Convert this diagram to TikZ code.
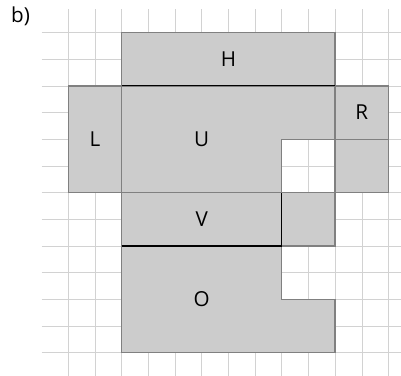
\documentclass[tikz,border=0pt]{standalone}
\usepackage{fontspec}
\setmainfont{Open Sans}
\usetikzlibrary{positioning}

\begin{document}
\begin{tikzpicture}[
    gridline/.style={draw=gray!35, line width=0.6pt},
    piece/.style={fill=gray!40, draw=gray!100, line width=1.5pt},
    cut/.style={draw=black, line width=1.1pt},
    lbl/.style={font=\fontsize{22}{26}\selectfont, inner sep=0pt},
]
\useasboundingbox (-2.56,-0.87) rectangle (12.47,13.22);

% grid
\foreach \y in {0,...,12}
  \draw[gridline] (-1,\y) -- (12.6,\y);
\foreach \x in {0,...,12}
  \draw[gridline] (\x,-1) -- (\x,12.89);

% pieces
\draw[piece] (2,10) rectangle (10,12);
\draw[piece] (0,6) rectangle (2,10);
\draw[piece] (2,6) -- (2,10) -- (10,10) -- (10,8) -- (8,8) -- (8,6) -- cycle;
\draw[piece] (10,8) rectangle (12,10);
\draw[piece] (10,6) rectangle (12,8);
\draw[piece] (2,4) rectangle (8,6);
\draw[piece] (8,4) rectangle (10,6);
\draw[piece] (2,0) -- (10,0) -- (10,2) -- (8,2) -- (8,4) -- (2,4) -- cycle;

% dark edges
\draw[cut] (2,10) -- (10,10);
\draw[cut] (2,4) -- (8,4) -- (8,6);

% labels
\node[lbl] (h) at (6,11) {H};
\node[lbl] (l) at (1,8) {L};
\node[lbl] (u) at (5,8) {U};
\node[lbl] (r) at (11,9) {R};
\node[lbl] (v) at (5,5) {V};
\node[lbl] (o) at (5,2) {O};
\node[lbl] (tag) at (-1.79,12.62) {b)};
\end{tikzpicture}
\end{document}
